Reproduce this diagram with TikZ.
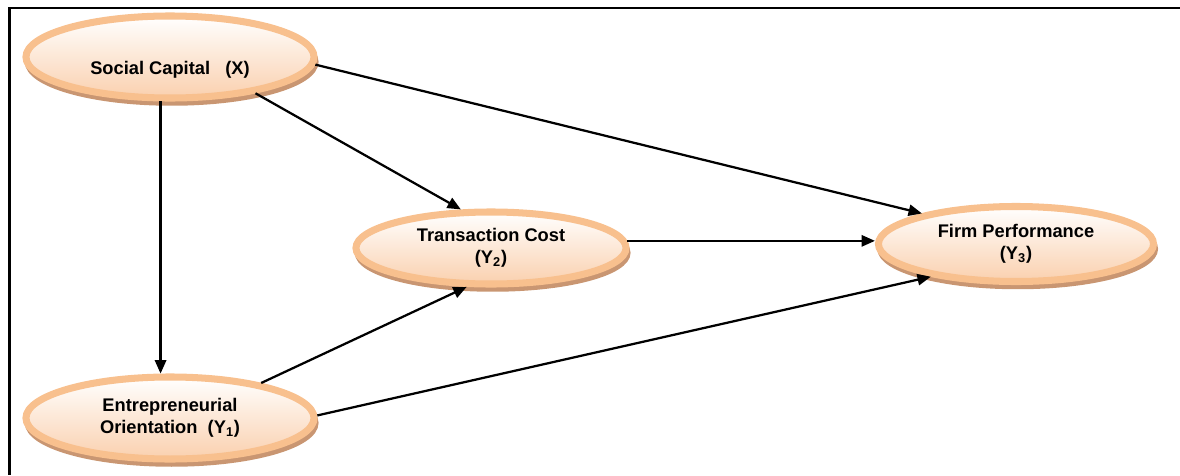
\documentclass[tikz,border=0pt]{standalone}
\usepackage{fontspec}
\setmainfont{Liberation Sans}
\usetikzlibrary{shapes.geometric,shadows,arrows.meta}

\definecolor{ring}{HTML}{F8C08E}
\definecolor{peach}{HTML}{FAD0AE}
\definecolor{tan}{HTML}{C99672}

\tikzset{
	construct/.style = {ellipse, draw = ring, line width = 5pt, top color = white, bottom color = peach,
		align = center, inner sep = 0pt, font = \fontsize{13}{15.5}\selectfont\bfseries,
		drop shadow = {shadow xshift = 1.2pt, shadow yshift = -3.5pt, fill = tan, draw = tan, line width = 4pt, opacity = 1}},
	path/.style = {line width = 1.6pt, -{Triangle[length=9.5pt,width=8pt]}}
}

\begin{document}
\begin{tikzpicture}[x=0.025cm, y=-0.025cm]

	\useasboundingbox (0,0) rectangle (1180,475);
	\draw[line width = 2pt] (1180,8) -- (9.5,8) -- (9.5,475);

	\coordinate (x) at (170,57);
	\coordinate (y1) at (170,418);
	\coordinate (y2) at (491,248);
	\coordinate (y3) at (1016,244);

	\node[construct, minimum width = 7.2cm, minimum height = 2.05cm, text height = 28pt, text depth = 3pt] (sc) at (x) {Social Capital \ \ (X)};
	\node[construct, minimum width = 7.2cm, minimum height = 2.05cm] (eo) at (y1) {Entrepreneurial\\Orientation \ (Y\textsubscript{1})};
	\node[construct, minimum width = 6.75cm, minimum height = 1.8cm] (tc) at (y2) {Transaction Cost\\(Y\textsubscript{2})};
	\node[construct, minimum width = 6.875cm, minimum height = 1.875cm] (fp) at (y3) {Firm Performance\\(Y\textsubscript{3})};

	\draw[path] (sc.258) -- (eo.102);
	\draw[path] (sc.337) -- (tc.128);
	\draw[path] (sc.357) -- (fp.162);
	\draw[path] (eo.21) -- (tc.238);
	\draw[path] (eo.1) -- (fp.201);
	\draw[path] (tc.3) -- (tc.3 -| fp.west);

\end{tikzpicture}
\end{document}
